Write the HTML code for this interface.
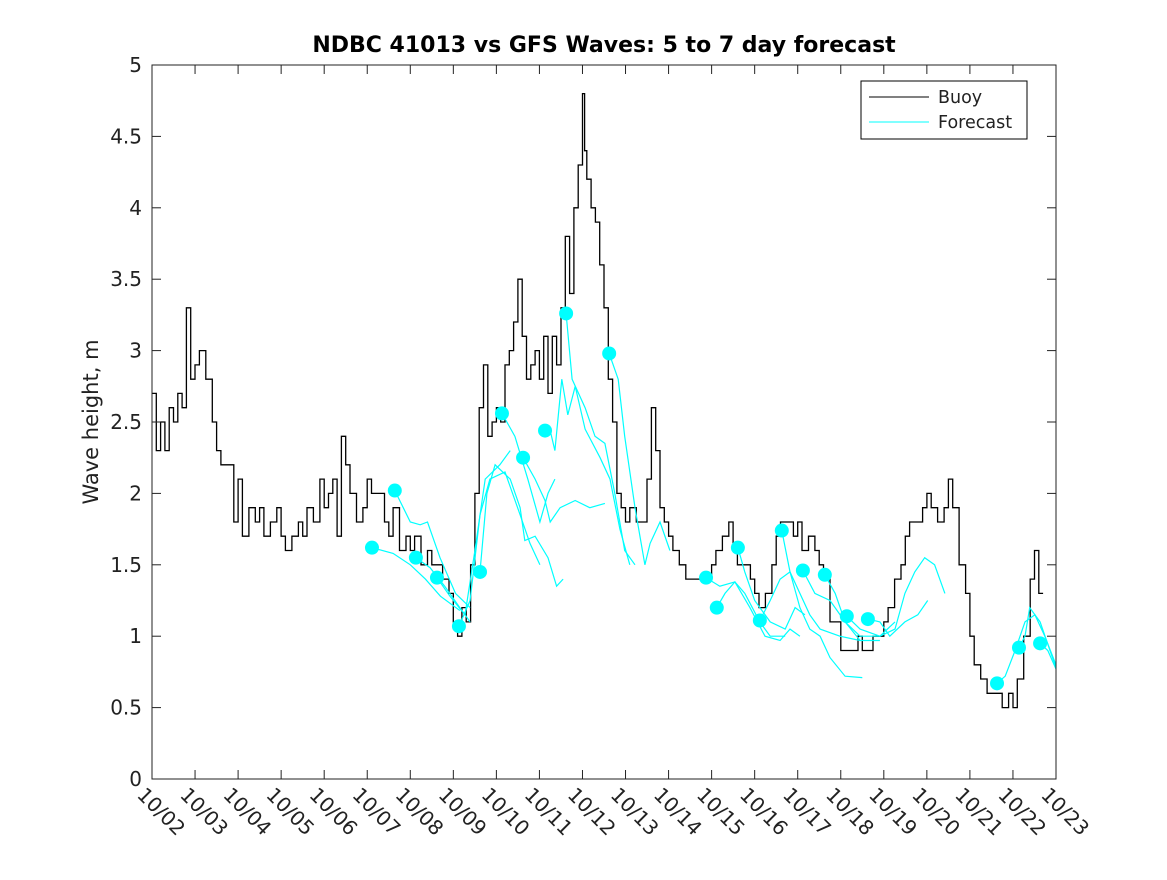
<!DOCTYPE html>
<html><head><meta charset="utf-8"><style>
body{margin:0;background:#fff;}
svg{font-family:"DejaVu Sans","Liberation Sans",sans-serif;}
</style></head><body>
<svg id="chart" width="1167" height="875" xmlns="http://www.w3.org/2000/svg">
<rect x="0" y="0" width="1167" height="875" fill="#fff"/>
<text x="604" y="52" text-anchor="middle" font-size="22" font-weight="bold" fill="#000">NDBC 41013 vs GFS Waves: 5 to 7 day forecast</text>
<text transform="translate(98,422) rotate(-90)" text-anchor="middle" font-size="21" fill="#222">Wave height, m</text>
<g id="plot"></g>
<g id="axes"></g>
<g>
<rect x="861" y="81" width="166" height="58" fill="#fff" stroke="#000" stroke-width="1"/>
<line x1="869" y1="97" x2="929" y2="97" stroke="#000"/>
<text x="938" y="103" font-size="17.5" fill="#222">Buoy</text>
<line x1="869" y1="122" x2="929" y2="122" stroke="#0ff"/>
<text x="938" y="128" font-size="17.5" fill="#222">Forecast</text>
</g>
</svg>
<script>
const xTickLabels=["10/02","10/03","10/04","10/05","10/06","10/07","10/08","10/09","10/10","10/11","10/12","10/13","10/14","10/15","10/16","10/17","10/18","10/19","10/20","10/21","10/22","10/23"];
const yTicks=[0,0.5,1,1.5,2,2.5,3,3.5,4,4.5,5];
const buoyDays=[0,0.1,0.2,0.3,0.4,0.5,0.6,0.7,0.8,0.9,1.0,1.1,1.25,1.4,1.5,1.6,1.75,1.9,2.0,2.1,2.25,2.4,2.5,2.6,2.75,2.9,3.0,3.1,3.25,3.4,3.5,3.6,3.75,3.9,4.0,4.1,4.2,4.3,4.4,4.5,4.6,4.75,4.9,5.0,5.1,5.25,5.4,5.5,5.6,5.75,5.9,6.0,6.1,6.25,6.4,6.5,6.6,6.75,6.9,7.0,7.1,7.2,7.3,7.4,7.5,7.6,7.7,7.8,7.9,8.0,8.1,8.2,8.3,8.4,8.5,8.6,8.7,8.8,8.9,9.0,9.1,9.2,9.3,9.4,9.5,9.6,9.7,9.8,9.9,10.0,10.05,10.1,10.2,10.3,10.4,10.5,10.6,10.7,10.8,10.9,11.0,11.1,11.25,11.4,11.5,11.6,11.7,11.8,11.9,12.0,12.1,12.25,12.4,12.5,12.6,12.75,12.9,13.0,13.1,13.25,13.4,13.5,13.6,13.75,13.9,14.0,14.1,14.25,14.4,14.5,14.6,14.75,14.9,15.0,15.1,15.25,15.4,15.5,15.6,15.75,15.9,16.0,16.1,16.25,16.4,16.5,16.6,16.75,16.9,17.0,17.1,17.25,17.4,17.5,17.6,17.75,17.9,18.0,18.1,18.25,18.4,18.5,18.6,18.75,18.9,19.0,19.1,19.25,19.4,19.5,19.6,19.75,19.9,20.0,20.1,20.25,20.4,20.5,20.6,20.7,20.75];
const buoyVals=[2.7,2.3,2.5,2.3,2.6,2.5,2.7,2.6,3.3,2.8,2.9,3.0,2.8,2.5,2.3,2.2,2.2,1.8,2.1,1.7,1.9,1.8,1.9,1.7,1.8,1.9,1.7,1.6,1.7,1.8,1.7,1.9,1.8,2.1,1.9,2.0,2.1,1.7,2.4,2.2,2.0,1.8,1.9,2.1,2.0,2.0,1.8,1.7,1.9,1.6,1.7,1.6,1.7,1.5,1.6,1.5,1.5,1.4,1.3,1.1,1.0,1.2,1.1,1.5,2.0,2.6,2.9,2.4,2.5,2.6,2.5,2.9,3.0,3.2,3.5,3.1,2.8,2.9,3.0,2.8,3.1,2.7,3.1,2.9,3.3,3.8,3.4,4.0,4.3,4.8,4.4,4.2,4.0,3.9,3.6,3.3,2.8,2.5,2.0,1.9,1.8,1.9,1.8,1.8,2.1,2.6,2.3,1.9,1.8,1.7,1.6,1.5,1.4,1.4,1.4,1.4,1.4,1.5,1.6,1.7,1.8,1.6,1.5,1.5,1.4,1.3,1.2,1.3,1.5,1.7,1.8,1.8,1.7,1.8,1.6,1.7,1.6,1.5,1.4,1.1,1.1,0.9,0.9,0.9,1.0,0.9,0.9,1.0,1.0,1.1,1.2,1.4,1.5,1.7,1.8,1.8,1.9,2.0,1.9,1.8,1.9,2.1,1.9,1.5,1.3,1.0,0.8,0.7,0.6,0.6,0.6,0.5,0.6,0.5,0.7,1.0,1.4,1.6,1.3];
const fcDays=[
[5.11,5.6,6.0,6.35,6.7,7.15],
[5.64,6.0,6.23,6.4,6.69,7.05,7.39],
[6.13,6.46,6.8,7.15,7.39],
[6.62,6.92,7.27,7.5,7.74,8.08,8.32],
[7.13,7.39,7.62,7.85,8.2,8.55,8.78,9.01],
[7.62,7.78,7.97,8.32,8.55,8.66,8.9,9.2,9.4,9.55],
[8.13,8.43,8.73,9.01,9.2,9.36],
[8.62,8.9,9.13,9.25,9.48,9.83,10.17,10.52],
[9.13,9.25,9.36,9.52,9.66,9.83,10.06,10.41,10.64,10.87,11.1],
[9.62,9.76,10.06,10.29,10.52,10.75,10.98,11.22],
[10.62,10.83,10.98,11.22,11.45,11.57,11.8,12.03],
[12.87,13.19,13.54,13.77,14.12,14.36,14.71],
[13.12,13.31,13.54,13.89,14.24,14.59,14.82,15.05],
[13.61,13.77,14.0,14.36,14.71,14.94,15.17],
[14.12,14.36,14.59,14.82,15.05,15.28,15.52,15.75,16.1,16.5],
[14.63,14.82,15.05,15.28,15.52,15.98,16.45],
[15.12,15.4,15.75,16.1,16.45,16.91],
[15.63,15.87,16.1,16.45,16.91,17.26],
[16.14,16.45,16.91,17.26,17.49,17.72,17.95,18.18,18.42],
[16.63,16.91,17.14,17.49,17.79,18.02],
[19.63,19.82,20.05,20.28,20.51,20.74,21.0],
[20.14,20.28,20.39,20.63,20.86,21.0],
[20.63,20.81,21.0]];
const fcVals=[
[1.62,1.58,1.5,1.4,1.28,1.18],
[2.02,1.8,1.78,1.8,1.55,1.3,1.2],
[1.55,1.48,1.35,1.2,1.1],
[1.41,1.28,1.15,1.6,2.1,2.2,2.3],
[1.07,1.25,1.85,2.1,2.15,1.85,1.65,1.5],
[1.45,2.0,2.2,2.1,1.9,1.67,1.7,1.55,1.35,1.4],
[2.56,2.4,2.1,1.8,2.0,2.1],
[2.25,2.1,1.95,1.8,1.9,1.95,1.9,1.93],
[2.44,2.44,2.3,2.8,2.55,2.75,2.45,2.25,2.1,1.75,1.5],
[3.26,2.8,2.6,2.4,2.35,2.0,1.6,1.5],
[2.98,2.8,2.4,1.9,1.5,1.65,1.8,1.6],
[1.41,1.35,1.38,1.3,1.1,1.0,1.0],
[1.2,1.3,1.38,1.2,1.0,0.97,1.05,1.0],
[1.62,1.45,1.25,1.1,1.05,1.2,1.15],
[1.11,1.25,1.4,1.45,1.2,1.05,1.0,0.85,0.72,0.71],
[1.74,1.45,1.3,1.15,1.05,1.0,0.97],
[1.46,1.3,1.25,1.1,0.97,0.97],
[1.43,1.3,1.1,1.0,1.0,1.1],
[1.14,1.05,1.0,1.05,1.3,1.45,1.55,1.5,1.3],
[1.12,1.1,1.0,1.1,1.15,1.25],
[0.67,0.72,0.9,1.1,1.15,1.0,0.8],
[0.92,1.0,1.2,1.1,0.9,0.78],
[0.95,0.9,0.77]];

const X0=152,X1=1056,Y0=779,Y1=65;
function xs(d){return X0+(X1-X0)*d/21;}
function ys(v){return Y0-(Y0-Y1)*v/5;}
const NS="http://www.w3.org/2000/svg";
const plot=document.getElementById('plot');
const axes=document.getElementById('axes');
function mk(tag,attrs,parent){const e=document.createElementNS(NS,tag);for(const k in attrs)e.setAttribute(k,attrs[k]);parent.appendChild(e);return e;}

const box=mk('rect',{x:X0,y:Y1,width:X1-X0,height:Y0-Y1,fill:'none',stroke:'#222','stroke-width':1},axes);



yTicks.forEach(v=>{
  const y=ys(v);
  mk('line',{x1:X0,y1:y,x2:X0+9,y2:y,stroke:'#222'},axes);
  mk('line',{x1:X1,y1:y,x2:X1-9,y2:y,stroke:'#222'},axes);
  const t=mk('text',{x:X0-10,y:y+7,'text-anchor':'end','font-size':20,fill:'#222'},axes);
  t.textContent=String(v);
  
  
});
xTickLabels.forEach((lab,i)=>{
  const x=xs(i);
  mk('line',{x1:x,y1:Y0,x2:x,y2:Y0-9,stroke:'#222'},axes);
  mk('line',{x1:x,y1:Y1,x2:x,y2:Y1+9,stroke:'#222'},axes);
  const t=mk('text',{transform:`translate(${x-16},${Y0+17}) rotate(45)`,'font-size':20,fill:'#222'},axes);
  t.textContent=lab;
  
  
});

let bp=[];
buoyDays.forEach((d,i)=>{
  if(i>0) bp.push(xs(d).toFixed(1)+','+ys(buoyVals[i-1]).toFixed(1));
  bp.push(xs(d).toFixed(1)+','+ys(buoyVals[i]).toFixed(1));
});
const bl=mk('polyline',{points:bp.join(' '),fill:'none',stroke:'#000','stroke-width':1.3},plot);



fcDays.forEach((ds,j)=>{
  const pts=ds.map((d,i)=>xs(d).toFixed(1)+','+ys(fcVals[j][i]).toFixed(1)).join(' ');
  const l=mk('polyline',{points:pts,fill:'none',stroke:'#0ff','stroke-width':1.2},plot);
  
  
});
fcDays.forEach((ds,j)=>{
  const c=mk('circle',{cx:xs(ds[0]),cy:ys(fcVals[j][0]),r:7,fill:'#0ff'},plot);
  
  
});
</script>
</body></html>
